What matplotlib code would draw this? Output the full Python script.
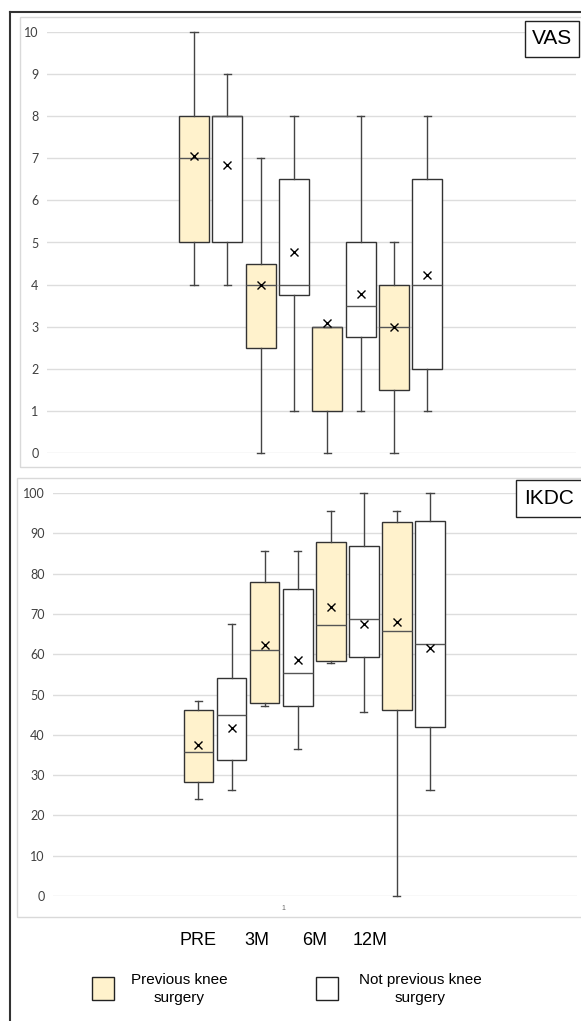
import matplotlib.pyplot as plt
from matplotlib.patches import Rectangle
from matplotlib.lines import Line2D

plt.rcParams['font.family'] = ['Liberation Sans', 'DejaVu Sans']

timepoints = ['PRE', '3M', '6M', '12M']
groups = ['Previous knee\nsurgery', 'Not previous knee\nsurgery']
group_colors = ['#FFF2CC', '#FFFFFF']

# VAS, per box: prev/not interleaved for PRE, 3M, 6M, 12M
vas_whislo = [4, 4, 0, 1, 0, 1, 0, 1]
vas_q1 = [5, 5, 2.5, 3.75, 1, 2.75, 1.5, 2]
vas_med = [7, 8, 4, 4, 3, 3.5, 3, 4]
vas_q3 = [8, 8, 4.5, 6.5, 3, 5, 4, 6.5]
vas_whishi = [10, 9, 7, 8, 3, 8, 5, 8]
vas_mean = [7.05, 6.85, 4.0, 4.78, 3.08, 3.78, 3.0, 4.23]

# IKDC
ikdc_whislo = [24.1, 26.4, 47.2, 36.5, 57.7, 45.7, 0, 26.4]
ikdc_q1 = [28.2, 33.7, 47.8, 47.1, 58.3, 59.2, 46.2, 41.9]
ikdc_med = [35.7, 44.8, 61.0, 55.3, 67.3, 68.8, 65.8, 62.5]
ikdc_q3 = [46.2, 54.1, 77.8, 76.3, 87.8, 86.8, 92.9, 93.1]
ikdc_whishi = [48.5, 67.6, 85.6, 85.6, 95.6, 100, 95.6, 100]
ikdc_mean = [37.5, 41.8, 62.3, 58.6, 71.8, 67.5, 68.0, 61.6]

W, H = 581, 1021
fig = plt.figure(figsize=(W / 100, H / 100), dpi=100)


def fx(px):
    return px / W


def fy(py):
    return 1 - py / H


# outer frame and panel borders
fig.add_artist(Line2D([fx(10), fx(10)], [fy(12), 0], color='#333333', lw=1.5))
fig.add_artist(Line2D([fx(10), 1], [fy(12), fy(12)], color='#333333', lw=1.5))
for x0, y0, y1 in [(20, 17, 467), (17, 478, 917)]:
    fig.add_artist(Rectangle((fx(x0), fy(y1)), 1.2, fy(y0) - fy(y1),
                             fill=False, ec='#D9D9D9', lw=1))


def draw_panel(rect, lo, q1, med, q3, hi, mean, ymax, step, title, title_box):
    ax = fig.add_axes(rect)
    stats = []
    for i in range(len(med)):
        stats.append(dict(whislo=lo[i], q1=q1[i], med=med[i], q3=q3[i],
                          whishi=hi[i], mean=mean[i], fliers=[]))
    pos = list(range(len(med)))
    bp = ax.bxp(stats, positions=pos, widths=0.9, patch_artist=True,
                showmeans=True, capwidths=0.22,
                boxprops=dict(edgecolor='#333333', lw=1),
                medianprops=dict(color='#555555', lw=1),
                whiskerprops=dict(color='#444444', lw=1),
                capprops=dict(color='#444444', lw=1),
                meanprops=dict(marker='x', markeredgecolor='black',
                               markersize=6, markeredgewidth=1))
    for i, box in enumerate(bp['boxes']):
        box.set_facecolor(group_colors[i % 2])
    for key in bp:
        for art in bp[key]:
            art.set_clip_on(False)
            art.set_zorder(3)
    ax.set_xlim(-4.4, 11.45)
    ax.set_ylim(0, ymax)
    ax.set_yticks(range(0, ymax + 1, step))
    ax.set_xticks([])
    ax.grid(axis='y', color='#DDDDDD', lw=1)
    ax.set_axisbelow(True)
    for s in ax.spines.values():
        s.set_visible(False)
    ax.tick_params(axis='y', length=0, pad=6, labelsize=9, labelcolor='#404040')
    for lab in ax.get_yticklabels():
        lab.set_family('Lato')
    x0, y0, x1, y1 = title_box
    fig.add_artist(Rectangle((fx(x0), fy(y1)), fx(x1) - fx(x0), fy(y0) - fy(y1),
                             fill=True, fc='white', ec='#222222', lw=1))
    fig.text(fx((x0 + x1) / 2), fy((y0 + y1) / 2), title, fontsize=15,
             ha='center', va='center')
    return ax


draw_panel([fx(47), fy(453), fx(576) - fx(47), fy(32) - fy(453)],
           vas_whislo, vas_q1, vas_med, vas_q3, vas_whishi, vas_mean,
           10, 1, 'VAS', (525, 21, 579, 57))
ax2 = draw_panel([fx(53), fy(896), fx(577) - fx(53), fy(493) - fy(896)],
                 ikdc_whislo, ikdc_q1, ikdc_med, ikdc_q3, ikdc_whishi, ikdc_mean,
                 100, 10, 'IKDC', (516, 480, 582, 517))
fig.text(fx(283), fy(908), '1', fontsize=5, color='#666666',
         ha='center', va='center')

# category labels
for label, px in zip(timepoints, [198, 257, 315, 370]):
    fig.text(fx(px), fy(940), label, fontsize=13, ha='center', va='center')

# legend
for name, color, sq_x, tx in zip(groups, group_colors, [92, 316], [179, 420]):
    fig.add_artist(Rectangle((fx(sq_x), fy(1000)), fx(22), fy(977) - fy(1000),
                             fc=color, ec='#222222', lw=1))
    fig.text(fx(tx), fy(989), name, fontsize=11, ha='center', va='center',
             linespacing=1.4)

fig.savefig('out.png', dpi=100)
